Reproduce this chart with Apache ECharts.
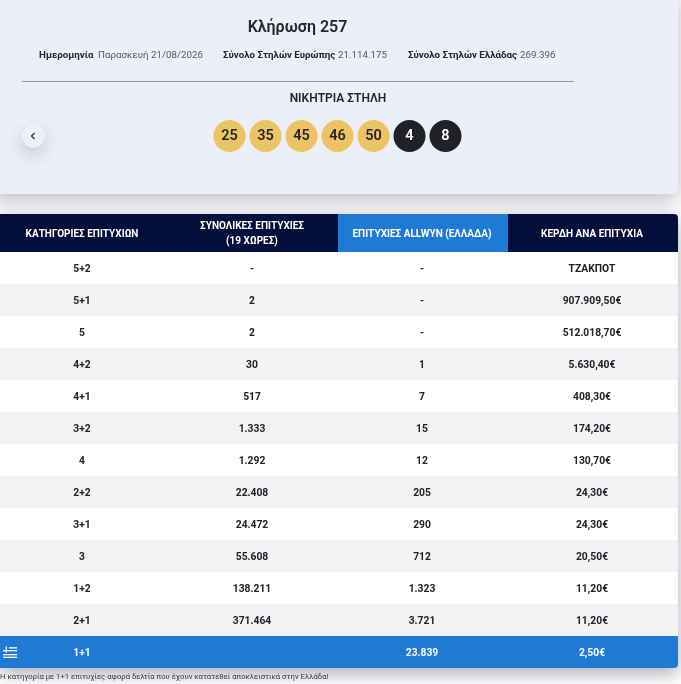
<!DOCTYPE html>
<html>
<head>
<meta charset="utf-8">
<title>Κλήρωση 257</title>
<style>
  html, body { margin: 0; padding: 0; background: #fff; }
  #chart { width: 681px; height: 684px; }
</style>
<script src="https://cdn.jsdelivr.net/npm/echarts@6/dist/echarts.min.js"></script>
</head>
<body>
<div id="chart"></div>
<script>
var drawTitle = 'Κλήρωση 257';
var metaLabels = ['Ημερομηνία', 'Σύνολο Στηλών Ευρώπης', 'Σύνολο Στηλών Ελλάδας'];
var metaValues = ['Παρασκευή 21/08/2026', '21.114.175', '269.396'];
var winningTitle = 'ΝΙΚΗΤΡΙΑ ΣΤΗΛΗ';
var mainNumbers = [25, 35, 45, 46, 50];
var starNumbers = [4, 8];
var headers = ['ΚΑΤΗΓΟΡΙΕΣ ΕΠΙΤΥΧΙΩΝ', 'ΣΥΝΟΛΙΚΕΣ ΕΠΙΤΥΧΙΕΣ\n(19 ΧΩΡΕΣ)', 'ΕΠΙΤΥΧΙΕΣ ALLWYN (ΕΛΛΑΔΑ)', 'ΚΕΡΔΗ ΑΝΑ ΕΠΙΤΥΧΙΑ'];
var categories = ['5+2', '5+1', '5', '4+2', '4+1', '3+2', '4', '2+2', '3+1', '3', '1+2', '2+1', '1+1'];
var totalWinners = ['-', '2', '2', '30', '517', '1.333', '1.292', '22.408', '24.472', '55.608', '138.211', '371.464', ''];
var greekWinners = ['-', '-', '-', '1', '7', '15', '12', '205', '290', '712', '1.323', '3.721', '23.839'];
var prizes = ['ΤΖΑΚΠΟΤ', '907.909,50€', '512.018,70€', '5.630,40€', '408,30€', '174,20€', '130,70€', '24,30€', '24,30€', '20,50€', '11,20€', '11,20€', '2,50€'];
var footnote = 'Η κατηγορία με 1+1 επιτυχίες αφορά δελτία που έχουν κατατεθεί αποκλειστικά στην Ελλάδα!';

var FONT = 'Roboto';
var NAVY = '#020f3b';
var BLUE = '#1f7ad6';
var INK = '#212226';

var columns = [categories, totalWinners, greekWinners, prizes];
var lastRow = categories.length - 1;

var headerData = headers.map(function (h, i) { return [i, 0, h]; });
var bodyData = [];
categories.forEach(function (c, r) {
    columns.forEach(function (col, i) {
        bodyData.push([i, r, col[r]]);
    });
});

function renderHeader(params, api) {
    var c = api.coord([api.value(0), 0]);
    var s = api.size([1, 1]);
    var col = api.value(0);
    return {
        type: 'group',
        children: [{
            type: 'rect',
            shape: { x: c[0] - s[0] / 2, y: c[1] - s[1] / 2, width: s[0], height: s[1], r: col === 3 ? [0, 4, 0, 0] : 0 },
            style: { fill: col === 2 ? BLUE : NAVY }
        }, {
            type: 'text',
            style: {
                x: c[0] - 1, y: c[1] + 1, text: headers[col], fill: '#fff', align: 'center', verticalAlign: 'middle',
                font: '700 10px ' + FONT, lineHeight: 15
            }
        }]
    };
}

function renderBody(params, api) {
    var col = api.value(0);
    var row = api.value(1);
    var c = api.coord([col, row]);
    var s = api.size([1, 1]);
    var isLast = row === lastRow;
    var fill = isLast ? BLUE : (row % 2 ? '#f3f3f6' : '#ffffff');
    var r = 0;
    if (isLast && col === 3) r = [0, 0, 4, 0];
    return {
        type: 'group',
        children: [{
            type: 'rect',
            shape: { x: c[0] - s[0] / 2, y: c[1] - s[1] / 2, width: s[0], height: s[1], r: r },
            style: { fill: fill }
        }, {
            type: 'text',
            style: {
                x: c[0] - 1, y: c[1] + 1, text: columns[col][row], fill: isLast ? '#fff' : INK,
                align: 'center', verticalAlign: 'middle', font: '700 10.3px ' + FONT
            }
        }]
    };
}

function metaText(x, text, bold) {
    return {
        type: 'text', x: x, y: 56, z: 1,
        style: {
            text: text, fill: bold ? '#25262b' : '#555860', verticalAlign: 'middle',
            font: (bold ? '700' : '400') + ' 9.75px ' + FONT
        }
    };
}

function flagBar(x, y, width, height) {
    return { type: 'rect', z: 5, shape: { x: x, y: y, width: width, height: height }, style: { fill: '#fff' } };
}

var chart = echarts.init(document.getElementById('chart'), null, { renderer: 'canvas' });
chart.setOption({
    animation: false,
    backgroundColor: '#ffffff',
    grid: [
        { left: -2, top: 214, width: 680, height: 38, outerBoundsMode: 'none' },
        { left: -2, top: 252, width: 680, height: 416, outerBoundsMode: 'none' },
        { left: 211.5, top: 118, width: 252, height: 36, outerBoundsMode: 'none' }
    ],
    xAxis: [
        { type: 'category', gridIndex: 0, data: [0, 1, 2, 3], show: false },
        { type: 'category', gridIndex: 1, data: [0, 1, 2, 3], show: false },
        { type: 'category', gridIndex: 2, data: mainNumbers.concat(starNumbers), show: false }
    ],
    yAxis: [
        { type: 'category', gridIndex: 0, data: [0], show: false },
        { type: 'category', gridIndex: 1, data: categories.map(function (c, i) { return i; }), inverse: true, show: false },
        { type: 'value', gridIndex: 2, min: 0, max: 2, show: false }
    ],
    graphic: [
        // top card
        {
            type: 'rect', z: 0,
            shape: { x: -10, y: -10, width: 688, height: 204, r: 6 },
            style: { fill: '#eceff8', shadowBlur: 22, shadowOffsetY: 6, shadowColor: 'rgba(40,45,60,0.32)' }
        },
        // table shadow
        {
            type: 'rect', z: 0,
            shape: { x: 0, y: 214, width: 678, height: 454, r: 4 },
            style: { fill: '#fff', shadowBlur: 18, shadowOffsetY: 6, shadowColor: 'rgba(40,45,60,0.38)' }
        },
        {
            type: 'text', x: 297.5, y: 27.5, z: 1,
            style: { text: drawTitle, fill: '#25262b', align: 'center', verticalAlign: 'middle', font: '600 16px ' + FONT }
        },
        metaText(39, metaLabels[0], true), metaText(98, metaValues[0], false),
        metaText(223, metaLabels[1], true), metaText(338, metaValues[1], false),
        metaText(408, metaLabels[2], true), metaText(520, metaValues[2], false),
        {
            type: 'line', z: 1,
            shape: { x1: 22, y1: 81.5, x2: 574, y2: 81.5 },
            style: { stroke: '#96989d', lineWidth: 1 }
        },
        {
            type: 'text', x: 338, y: 99, z: 1,
            style: { text: winningTitle, fill: '#25262b', align: 'center', verticalAlign: 'middle', font: '600 12px ' + FONT }
        },
        // back button
        {
            type: 'circle', z: 1,
            shape: { cx: 33.5, cy: 136, r: 11.5 },
            style: { fill: '#eef0f8', shadowBlur: 16, shadowOffsetY: 7, shadowColor: 'rgba(60,65,90,0.22)' }
        },
        {
            type: 'polyline', z: 1,
            shape: { points: [[34.5, 133], [31.5, 136], [34.5, 139]] },
            style: { stroke: '#30344a', lineWidth: 1.4, fill: null }
        },
        // footnote
        {
            type: 'text', x: 0, y: 677, z: 1,
            style: { text: footnote, fill: '#38383c', verticalAlign: 'middle', font: '400 7.7px ' + FONT }
        },
        // greek flag mark in the last row
        {
            type: 'group', x: 3, y: 646, zlevel: 1,
            children: [
                flagBar(0, 4, 14, 1.3), flagBar(0, 8, 14, 1.3), flagBar(0, 10.7, 14, 1.3),
                flagBar(6, 1.2, 8, 1.3), flagBar(2.6, 0.6, 1.3, 6)
            ]
        }
    ],
    series: [
        {
            type: 'custom', xAxisIndex: 0, yAxisIndex: 0, renderItem: renderHeader,
            data: headerData, encode: { x: 0, y: 1 }, silent: true, clip: false
        },
        {
            type: 'custom', xAxisIndex: 1, yAxisIndex: 1, renderItem: renderBody,
            data: bodyData, encode: { x: 0, y: 1 }, silent: true, clip: false
        },
        {
            type: 'scatter', xAxisIndex: 2, yAxisIndex: 2, symbol: 'circle', symbolSize: 32, silent: true,
            data: mainNumbers.map(function (n, i) {
                return { value: [i, 1], itemStyle: { color: '#edc465', opacity: 1 }, label: { color: '#25262b' } };
            }).concat(starNumbers.map(function (n, i) {
                return { value: [mainNumbers.length + i, 1], itemStyle: { color: '#1f2126', opacity: 1 }, label: { color: '#ffffff' } };
            })),
            label: {
                show: true, position: 'inside', fontFamily: FONT, fontWeight: 600, fontSize: 14.5,
                formatter: function (p) { return mainNumbers.concat(starNumbers)[p.dataIndex]; }
            }
        }
    ]
});
</script>
</body>
</html>
